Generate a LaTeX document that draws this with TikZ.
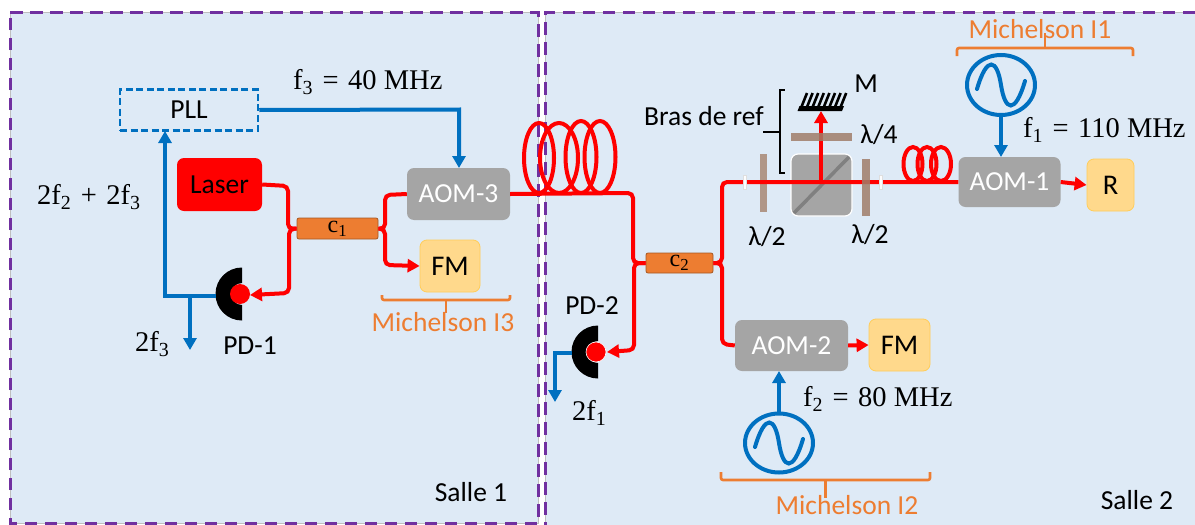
\documentclass[tikz,border=0pt]{standalone}
\usepackage{fontspec}
\setmainfont{Carlito}
\newfontfamily\mathlike{Liberation Serif}
\usetikzlibrary{arrows.meta,calc}
\definecolor{panel}{RGB}{222,234,246}
\definecolor{purp}{RGB}{112,48,160}
\definecolor{bleu}{RGB}{0,112,192}
\definecolor{oran}{RGB}{237,125,49}
\definecolor{fmfill}{RGB}{255,217,140}
\definecolor{fmline}{RGB}{255,205,90}
\definecolor{aom}{RGB}{165,165,165}
\definecolor{plate}{RGB}{176,150,135}
\definecolor{platedark}{RGB}{160,125,105}
\tikzset{
  x=1pt,y=-1pt,
  room/.style={draw=purp,line width=3pt,dash pattern=on 12.5pt off 7.5pt},
  roomline/.style={draw=black!25,line width=1pt},
  aombox/.style={fill=aom,rounded corners=7pt,text=white,font=\fontsize{27.5}{27.5}\selectfont,inner sep=0pt},
  fmbox/.style={fill=fmfill,draw=fmline,line width=.8pt,rounded corners=7pt,font=\fontsize{28.5}{28.5}\selectfont,inner sep=0pt},
  coupler/.style={fill=oran,draw=oran!70!black,line width=.8pt,rounded corners=2pt,inner sep=0pt,font=\mathlike\fontsize{24}{24}\selectfont},
  fib/.style={draw=red,line width=4pt,rounded corners=5pt},
  fibarrow/.style={fib,-{Triangle[length=12pt,width=13pt]}},
  sig/.style={draw=bleu,line width=4pt},
  sigarrow/.style={sig,-{Triangle[length=12pt,width=13pt]}},
  lab/.style={font=\fontsize{27.5}{27.5}\selectfont,inner sep=0pt},
  mlab/.style={font=\mathlike\fontsize{28.5}{28.5}\selectfont,inner sep=0pt,anchor=west},
  mich/.style={font=\fontsize{27.5}{27.5}\selectfont,text=oran,inner sep=0pt},
  bracket/.style={draw=oran,line width=2.6pt,rounded corners=2pt},
  plt/.style={fill=plate,inner sep=0pt},
  pltover/.style={fill=platedark,opacity=.85,inner sep=0pt},
  conn/.style={fill=white!92!panel,draw=black!13,line width=1.4pt,minimum width=3.5pt,minimum height=14pt,inner sep=0pt},
  coil/.style={draw=red,line width=4pt}
}
\newcommand{\pdet}[2]{%
  \fill[black] (#1,#2) ++(0,-26.5) arc[start angle=90,end angle=270,radius=26.5pt] -- ++(0,-15.5) arc[start angle=270,end angle=90,radius=11pt] -- cycle;
}
\newcommand{\sinew}[2]{%
  \draw[bleu,line width=4pt,line cap=round] (#1-24,#2+4) .. controls (#1-14,#2-30) and (#1-4,#2-26) .. (#1,#2) .. controls (#1+4,#2+26) and (#1+14,#2+30) .. (#1+24,#2-4);
}
\begin{document}
\begin{tikzpicture}
\useasboundingbox (0,0) rectangle (1195,525);
% rooms
\fill[panel] (10,12) rectangle (538,523);
\fill[panel] (545,12) rectangle (1195,525);
\draw[roomline] (10,12) rectangle (538,523);
\draw[roomline] (1195,12) -- (545,12) -- (545,525);
\draw[room] (10,12) -- (538,12) -- (538,523) -- (10,523) -- cycle;
\draw[room] (1195,12) -- (545,12) -- (545,525);
\node[font=\fontsize{27.5}{27.5}\selectfont,inner sep=0pt] (s1) at (471,492) {Salle 1};
\node[font=\fontsize{27.5}{27.5}\selectfont,inner sep=0pt] (s2) at (1137,500) {Salle 2};

% coils behind
\draw[coil] (539,158) ellipse [x radius=15pt,y radius=35pt];
\draw[coil] (559,158) ellipse [x radius=19pt,y radius=35pt];
\draw[coil] (581,157) ellipse [x radius=15.5pt,y radius=36pt];
\draw[coil] (600,157) ellipse [x radius=15.5pt,y radius=36pt];
\draw[coil] (913,164) ellipse [x radius=9.5pt,y radius=17pt];
\draw[coil] (927,164) ellipse [x radius=9.5pt,y radius=17pt];
\draw[coil] (941,164) ellipse [x radius=10pt,y radius=17pt];

% nodes
\node[draw=bleu,line width=2.5pt,dash pattern=on 7pt off 3.5pt,minimum width=138pt,minimum height=41pt,inner sep=0pt,font=\fontsize{27.5}{27.5}\selectfont] (pll) at (189,110) {PLL};
\node[fill=red,rounded corners=7pt,minimum width=85pt,minimum height=53pt,inner sep=0pt,font=\fontsize{27.5}{27.5}\selectfont] (laser) at (219.5,184.5) {Laser};
\node[coupler,minimum width=81pt,minimum height=21pt] (c1) at (337.5,228.5) {c\textsubscript{1}};
\node[coupler,minimum width=67pt,minimum height=20pt] (c2) at (679.5,263) {c\textsubscript{2}};
\node[aombox,minimum width=103pt,minimum height=52pt] (aom3) at (458.5,194) {AOM-3};
\node[aombox,minimum width=113pt,minimum height=51pt] (aom2) at (791.5,345.5) {AOM-2};
\node[aombox,minimum width=102pt,minimum height=50pt] (aom1) at (1009.5,182) {AOM-1};
\node[fmbox,minimum width=60pt,minimum height=52pt] (fm1) at (450,266) {FM};
\node[fmbox,minimum width=61pt,minimum height=52pt] (fm2) at (899.5,345) {FM};
\node[fmbox,minimum width=47pt,minimum height=52pt] (r) at (1110.5,185) {R};

% beam splitter parts
\node[fill=aom,draw=white,line width=1.2pt,rounded corners=7pt,minimum width=61pt,minimum height=62pt,inner sep=0pt] (cube) at (821.5,185) {};
\draw[black!50,line width=3.5pt] (794,213) -- (849,157);
\node[plt,minimum width=7.5pt,minimum height=58pt] (hw1) at (763.7,183) {};

% mirror
\coordinate (mirbase) at (821,111);
\fill[black] (797.5,111) -- (842,111) -- (844,106) -- (799.5,106) -- cycle;
\foreach \i in {0,...,7}{
  \draw[black,line width=2.6pt] (801+\i*5.6,108) -- (807+\i*5.6,93);
}

% fibres
\draw[fib] (laser.east) -- (288,186) -- (288,229) -- (c1.west);
\draw[fibarrow] (c1.west) -- (289,229) -- (289,293) -- (250,295);
\draw[fib] (c1.east) -- (385,229) -- (385,195) -- (aom3.west);
\draw[fibarrow] (c1.east) -- (385,229) -- (385,265) -- (fm1.west);
\draw[fib] (aom3.east) -- (633,193) -- (633,263) -- (c2.west);
\draw[fibarrow] (c2.west) -- (634,263) -- (634,350) -- (607,352);
\coordinate (turnA) at (722,182);
\draw[fib] (c2.east) -- (722,263) -- (turnA) -- (aom1.west);
\draw[fib] (c2.east) -- (722,263) -- (722,344) -- (aom2.west);
\draw[fibarrow] (aom2.east) -- (fm2.west);
\draw[fibarrow] (aom1.east) -- (r.west);
\coordinate (bsc) at (821,182);
\draw[red,line width=4pt,-{Triangle[length=12pt,width=13pt]}] (bsc) -- (mirbase);

\node[conn] (fc1) at (745,182.5) {};
\node[conn] (fc2) at (881,182.5) {};

\node[pltover,minimum width=8pt,minimum height=57pt] (hw2) at (866,187.5) {};
\node[pltover,minimum width=61pt,minimum height=8pt] (qw) at (821.5,137) {};

% photodiodes
\pdet{242}{294}
\pdet{598}{352}
\node[circle,fill=red,minimum size=20pt,inner sep=0pt] (pd1) at (240,294) {};
\node[circle,fill=red,draw=white,line width=.6pt,minimum size=20pt,inner sep=0pt] (pd2) at (596,352) {};
\coordinate (pd1out) at (216,296);
\coordinate (pd2out) at (572,353);

% signals
\draw[sigarrow] (pll.east) -- (459,109.5) -- (459,168);
\coordinate (j1) at (190,296);
\draw[sigarrow] (pd1out) -- (165,296) -- (165,131);
\coordinate (e1) at (190,350);
\draw[sigarrow] (j1) -- (e1);
\coordinate (e2) at (555,402);
\draw[sigarrow] (pd2out) -- (555,353) -- (e2);

% oscillators
\draw[bleu,line width=4pt] (1001,85) ellipse [x radius=34pt,y radius=30pt];
\coordinate (o1) at (1001,115);
\sinew{1001}{85}
\draw[sigarrow] (o1) -- (1001,157);
\draw[bleu,line width=4pt] (779,443) ellipse [x radius=34pt,y radius=29.5pt];
\coordinate (o2) at (779,413.5);
\sinew{779}{443}
\draw[sigarrow] (o2) -- (779,371);

% brackets
\draw[bracket] (382,295) -- (382,300) -- (510,300) -- (510,295);
\draw[oran,line width=2.6pt] (446,300) -- (446,313);
\draw[bracket] (721,472) -- (721,480) -- (930,480) -- (930,472);
\draw[oran,line width=2.6pt] (825.5,480) -- (825.5,498);
\draw[bracket] (957,56) -- (957,48) -- (1133,48) -- (1133,56);
\draw[oran,line width=2.6pt] (1045,48) -- (1045,33);
\draw[black,line width=2.4pt] (784.5,90) -- (780,90) -- (780,173) -- (784.5,173);
\draw[black,line width=2.4pt] (763,132) -- (780,132);

% labels
\node[mich] (m3) at (443,322) {Michelson I3};
\node[mich] (m2) at (847,505) {Michelson I2};
\node[mich] (m1) at (1040,29) {Michelson I1};
\node[mlab] (f3) at (293,82) {f\textsubscript{3}\,\,=\,\,40 MHz};
\node[mlab] (ff) at (37,197) {2f\textsubscript{2}\,\,+\,\,2f\textsubscript{3}};
\node[mlab] (t3) at (135,344) {2f\textsubscript{3}};
\node[mlab] (t1) at (572,413) {2f\textsubscript{1}};
\node[mlab] (f2) at (803,399) {f\textsubscript{2}\,\,=\,\,80 MHz};
\node[mlab] (f1) at (1023,130) {f\textsubscript{1}\,\,=\,\,110 MHz};
\node[lab] (pl1) at (250,346) {PD-1};
\node[lab] (pl2) at (592,306) {PD-2};
\node[lab] (br) at (704,116) {Bras de ref};
\node[lab] (mm) at (866,84) {M};
\node[lab] (l4) at (879,135) {λ/4};
\node[lab] (l2a) at (767,237) {λ/2};
\node[lab] (l2b) at (870,235) {λ/2};
\end{tikzpicture}
\end{document}
